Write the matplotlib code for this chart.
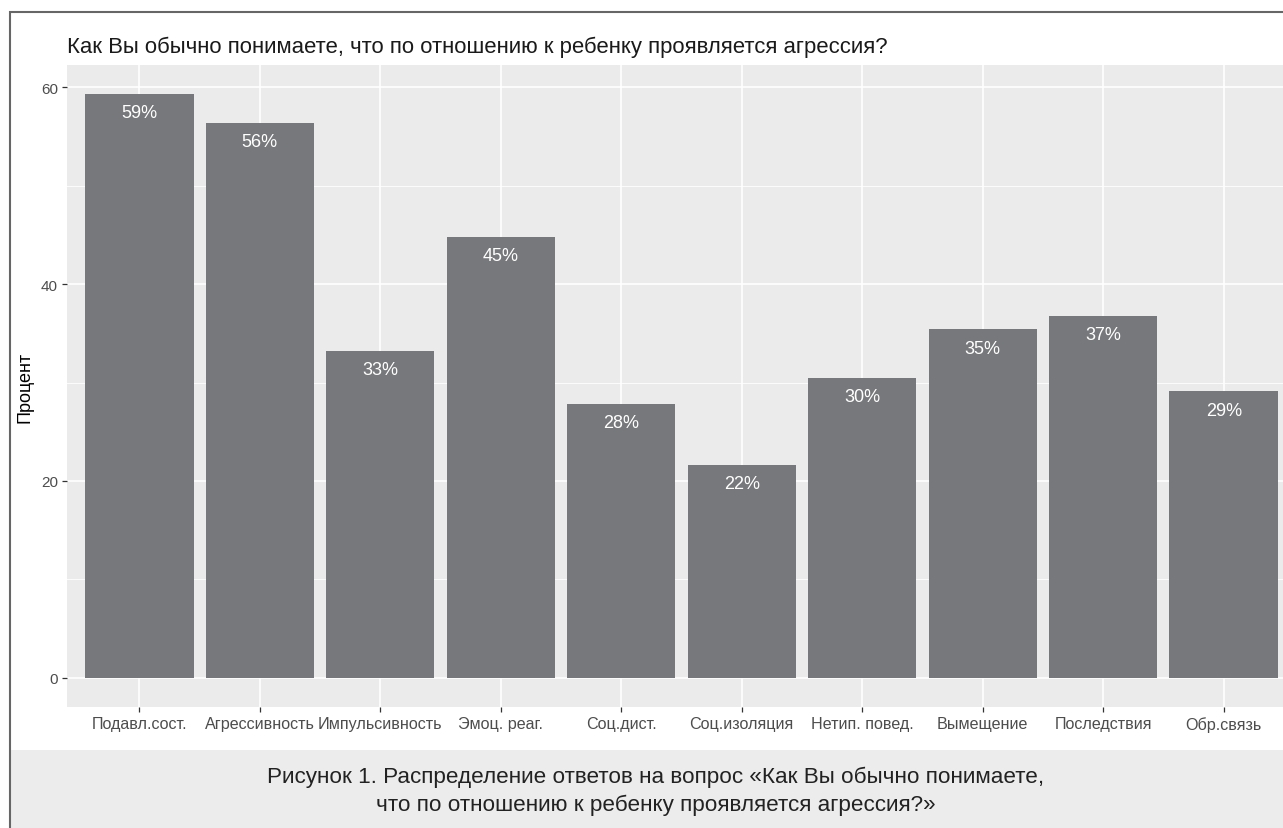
import matplotlib
matplotlib.use('Agg')
import matplotlib.pyplot as plt
import numpy as np
from matplotlib.patches import Rectangle

plt.rcParams['font.family'] = ['Liberation Sans', 'DejaVu Sans']

categories = ['Подавл.сост.', 'Агрессивность', 'Импульсивность', 'Эмоц. реаг.',
              'Соц.дист.', 'Соц.изоляция', 'Нетип. повед.', 'Вымещение',
              'Последствия', 'Обр.связь']
percent = [59.3, 56.4, 33.2, 44.8, 27.8, 21.6, 30.5, 35.4, 36.8, 29.1]
yticks = [0, 20, 40, 60]
title = 'Как Вы обычно понимаете, что по отношению к ребенку проявляется агрессия?'
ylabel = 'Процент'
caption = ('Рисунок 1. Распределение ответов на вопрос «Как Вы обычно понимаете,\n'
           'что по отношению к ребенку проявляется агрессия?»')

W, H = 1283, 829
fig = plt.figure(figsize=(W/100., H/100.), dpi=100)

# caption box and outer frame
fig.patches.append(Rectangle((10./W, 0), 1.0, 78./H, transform=fig.transFigure,
                             facecolor='#ececec', edgecolor='none', zorder=0))
fig.patches.append(Rectangle((10./W, -0.05), 1.1, 1.05 - 13./H, transform=fig.transFigure,
                             facecolor='none', edgecolor='#666666', lw=1.5, zorder=1))

# panel runs past the right edge like the original crop
ax = fig.add_axes([67./W, 1 - 708./H, (1296. - 67.)/W, (708. - 66.)/H])
ax.set_facecolor('#ebebeb')
for s in ax.spines.values():
    s.set_visible(False)

x = np.arange(len(categories))
ax.bar(x, percent, width=0.9, color='#77787b', zorder=3)

for i, v in enumerate(percent):
    ax.annotate('%d%%' % round(v), xy=(i, v), xytext=(0, -13.5), textcoords='offset points',
                ha='center', va='center', color='white', fontsize=13, zorder=4)

top = max(percent)
ax.set_ylim(-0.05*top, 1.05*top)
ax.set_xlim(-0.6, len(categories) - 0.4)
ax.set_yticks(yticks)
ax.set_yticks([10, 30, 50], minor=True)
ax.set_xticks(x)
ax.set_xticklabels(categories)

ax.grid(which='major', color='white', lw=1.2, zorder=1)
ax.grid(which='minor', axis='y', color='white', lw=0.6, zorder=1)
ax.set_axisbelow(True)

ax.tick_params(axis='both', which='major', length=3.6, width=0.9, color='#333333',
               labelcolor='#4d4d4d', labelsize=11, pad=3)
ax.tick_params(axis='x', labelsize=11.6)
ax.tick_params(axis='y', which='minor', length=0)

fig.text(67./W, 1 - 47./H, title, ha='left', va='center', fontsize=15.9, color='#1a1a1a')
fig.text(25./W, 1 - 387./H, ylabel, rotation=90, ha='center', va='center',
         fontsize=13, color='black')
fig.text(656./W, 1 - 791./H, caption, ha='center', va='center', fontsize=16.2,
         color='#222222', linespacing=1.4)

plt.savefig('out.png', dpi=100)
